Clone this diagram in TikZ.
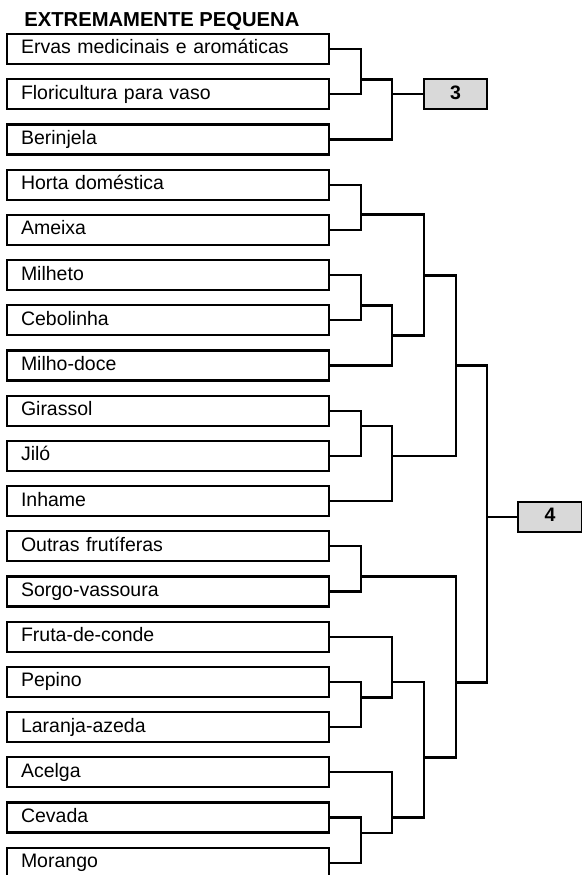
\documentclass[tikz,border=0pt]{standalone}
\usepackage{fontspec}
\setmainfont{Liberation Sans}
\usetikzlibrary{positioning}
\definecolor{clustergray}{HTML}{D9D9D9}

\begin{document}
\begin{tikzpicture}[x=1pt, y=-1pt, line width=2.2pt, line join=miter,
	font=\fontsize{19.5pt}{23pt}\selectfont,
	leaf/.style={draw, anchor=west, outer sep=0pt, minimum width=322pt, minimum height=30pt,
		inner xsep=14pt, text width=294pt, align=left, text height=14pt, text depth=4pt},
	cluster/.style={draw, fill=clustergray, outer sep=0pt, minimum height=30pt,
		text height=14pt, text depth=4pt, font=\fontsize{19.5pt}{23pt}\selectfont\bfseries}]
	\useasboundingbox (0,0) rectangle (581,875);

	% Group title
	\node[anchor=base west, font=\fontsize{20.2pt}{24pt}\selectfont\bfseries] (title) at (20,27) {EXTREMAMENTE PEQUENA};

	% Leaves, one per row
	\node[leaf] (ervas) at (7,49.0) {Ervas medicinais e aromáticas};
	\node[leaf] (flori) at (7,94.2) {Floricultura para vaso};
	\node[leaf] (berin) at (7,139.4) {Berinjela};
	\node[leaf] (horta) at (7,184.6) {Horta doméstica};
	\node[leaf] (ameixa) at (7,229.8) {Ameixa};
	\node[leaf] (milheto) at (7,275.0) {Milheto};
	\node[leaf] (ceboli) at (7,320.2) {Cebolinha};
	\node[leaf] (milho) at (7,365.4) {Milho-doce};
	\node[leaf] (girassol) at (7,410.6) {Girassol};
	\node[leaf] (jilo) at (7,455.8) {Jiló};
	\node[leaf] (inhame) at (7,501.0) {Inhame};
	\node[leaf] (outras) at (7,546.2) {Outras frutíferas};
	\node[leaf] (sorgo) at (7,591.4) {Sorgo-vassoura};
	\node[leaf] (fruta) at (7,636.6) {Fruta-de-conde};
	\node[leaf] (pepino) at (7,681.8) {Pepino};
	\node[leaf] (laranja) at (7,727.0) {Laranja-azeda};
	\node[leaf] (acelga) at (7,772.2) {Acelga};
	\node[leaf] (cevada) at (7,817.4) {Cevada};
	\node[leaf] (morango) at (7,862.6) {Morango};

	% Cluster boxes
	\node[cluster, minimum width=63pt] (c3) at (455.5,94.2) {3};
	\node[cluster, minimum width=64pt, anchor=west] (c4) at (518,516.7) {4};

	% Merge points of the dendrogram
	\coordinate (m1) at (361,79.5);
	\coordinate (m2) at (392,94.2);
	\coordinate (m3) at (361,214.5);
	\coordinate (m4) at (361,305.5);
	\coordinate (m5) at (392,335.5);
	\coordinate (m6) at (424,275.5);
	\coordinate (m7) at (361,425.7);
	\coordinate (m8) at (392,455.8);
	\coordinate (m9) at (456,365.5);
	\coordinate (m10) at (361,576.5);
	\coordinate (m11) at (361,697.5);
	\coordinate (m12) at (392,682.2);
	\coordinate (m13) at (361,832.7);
	\coordinate (m14) at (392,817.5);
	\coordinate (m15) at (424,757.5);
	\coordinate (m16) at (456,682.5);
	\coordinate (m17) at (487,516.7);

	% Brackets
	\draw (ervas.east) -| (m1) |- (flori.east);
	\draw (m1) -| (m2) |- (berin.east);
	\draw (m2) -- (c3.west);

	\draw (horta.east) -| (m3) |- (ameixa.east);
	\draw (milheto.east) -| (m4) |- (ceboli.east);
	\draw (m4) -| (m5) |- (milho.east);
	\draw (m3) -| (m6) |- (m5);
	\draw (girassol.east) -| (m7) |- (jilo.east);
	\draw (m7) -| (m8) |- (inhame.east);
	\draw (m6) -| (m9) |- (m8);

	\draw (outras.east) -| (m10) |- (sorgo.east);
	\draw (pepino.east) -| (m11) |- (laranja.east);
	\draw (fruta.east) -| (m12) |- (m11);
	\draw (cevada.east) -| (m13) |- (morango.east);
	\draw (acelga.east) -| (m14) |- (m13);
	\draw (m12) -| (m15) |- (m14);
	\draw (m10) -| (m16) |- (m15);

	\draw (m9) -| (m17) |- (m16);
	\draw (m17) -- (c4.west);
\end{tikzpicture}
\end{document}
